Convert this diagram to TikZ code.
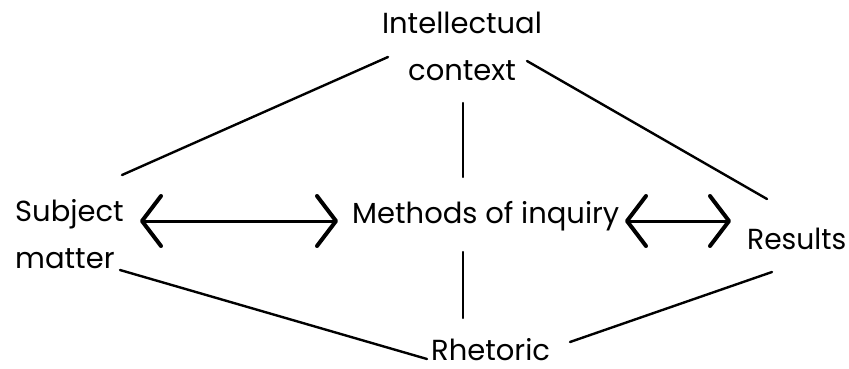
\documentclass[tikz,border=0pt]{standalone}
\usepackage{fontspec}
\setmainfont{Poppins}
\usetikzlibrary{arrows.meta}
\tikzset{
  lbl/.style={inner sep=0pt, font=\fontsize{29}{46.5}\selectfont, align=left},
  conn/.style={line width=2.4pt, line cap=round},
  dbl/.style={line width=3pt, {Straight Barb[length=19pt,width=50pt,line width=4pt,round]}-{Straight Barb[length=19pt,width=50pt,line width=4pt,round]}}
}
\begin{document}
\begin{tikzpicture}[x=1pt,y=-1pt]
\useasboundingbox (0,0) rectangle (849,368);
\node[lbl, align=center, anchor=base] (intel) at (462,80) {Intellectual\\context};
\node[lbl, anchor=base west] (subj) at (15,268) {Subject\\matter};
\node[lbl, anchor=base west] (meth) at (352,223) {Methods of inquiry};
\node[lbl, anchor=base west, xscale=0.97] (res) at (747,249) {Results};
\node[lbl, anchor=base west, text depth=0pt] (rhet) at (431,360) {Rhetoric};
\coordinate (a1) at (122,175);
\coordinate (a2) at (388,57);
\coordinate (b1) at (527,61);
\coordinate (b2) at (767,199);
\coordinate (c1) at (463,103);
\coordinate (c2) at (463,177);
\coordinate (d1) at (463,252);
\coordinate (d2) at (463,318);
\coordinate (e1) at (120,270);
\coordinate (e2) at (427,359);
\coordinate (f1) at (570,342);
\coordinate (f2) at (772,272);
\coordinate (g1) at (140,221);
\coordinate (g2) at (338,221);
\coordinate (h1) at (625,221);
\coordinate (h2) at (731,221);
\draw[conn] (a1) -- (a2);
\draw[conn] (b1) -- (b2);
\draw[conn] (c1) -- (c2);
\draw[conn] (d1) -- (d2);
\draw[conn] (e1) -- (e2);
\draw[conn] (f1) -- (f2);
\draw[dbl] (g1) -- (g2);
\draw[dbl] (h1) -- (h2);
\end{tikzpicture}
\end{document}
